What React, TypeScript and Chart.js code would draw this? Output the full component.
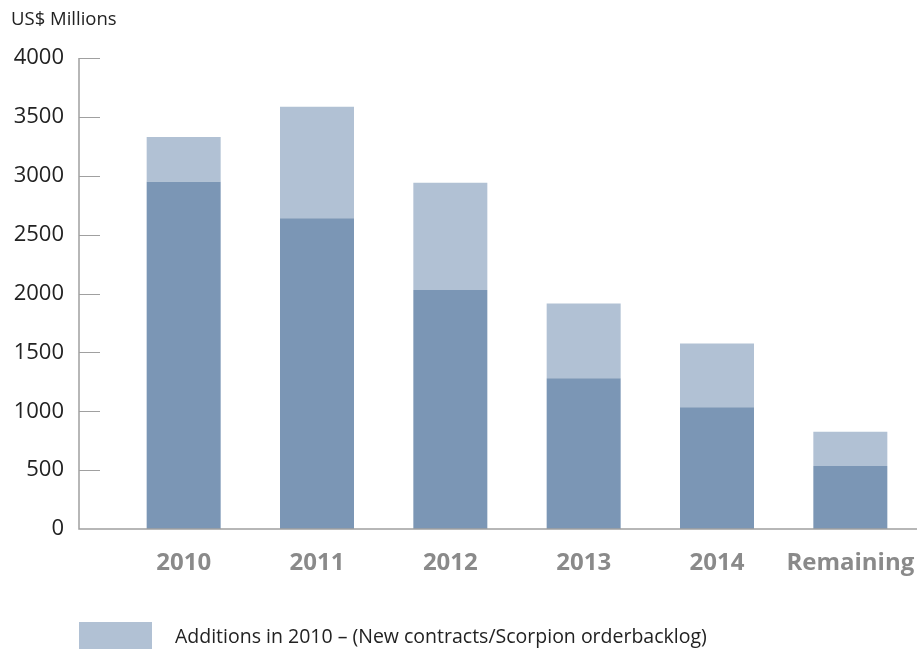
import React, { useEffect, useRef } from "react";
import { Chart, registerables } from "chart.js";

Chart.register(...registerables);

const categories = ["2010", "2011", "2012", "2013", "2014", "Remaining"];
const existingBacklog = [2950, 2640, 2030, 1280, 1035, 535];
const additions2010 = [380, 945, 910, 635, 540, 290];
const yTicks = [0, 500, 1000, 1500, 2000, 2500, 3000, 3500, 4000];
const unitLabel = "US$ Millions";
const legendLabel = "Additions in 2010 \u2013 (New contracts/Scorpion orderbacklog)";

const DARK = "#7b96b5";
const LIGHT = "#b1c1d4";
const AXIS = "#a0a0a0";
const FONT = "'Open Sans', sans-serif";

const decorPlugin = {
  id: "decor",
  afterDraw(chart: any) {
    const { ctx, chartArea, scales } = chart;
    const y = scales.y;
    const axisX = chartArea.left - 38;
    const top = y.getPixelForValue(4000);
    const bottom = y.getPixelForValue(0);
    ctx.save();
    ctx.strokeStyle = AXIS;
    ctx.lineWidth = 1.5;
    ctx.beginPath();
    ctx.moveTo(axisX, top);
    ctx.lineTo(axisX, bottom);
    ctx.lineTo(chartArea.right, bottom);
    ctx.stroke();
    ctx.lineWidth = 1;
    yTicks.forEach((v) => {
      if (v === 0) return;
      const py = Math.round(y.getPixelForValue(v)) + 0.5;
      ctx.beginPath();
      ctx.moveTo(axisX, py);
      ctx.lineTo(axisX + 21, py);
      ctx.stroke();
    });
    // unit label
    ctx.fillStyle = "#222";
    ctx.font = `18.5px ${FONT}`;
    ctx.textBaseline = "middle";
    ctx.textAlign = "left";
    ctx.fillText(unitLabel, 11, 20);
    // legend
    ctx.fillStyle = LIGHT;
    ctx.fillRect(axisX, 622, 73, 27);
    ctx.fillStyle = "#222";
    ctx.font = `19.5px ${FONT}`;
    ctx.fillText(legendLabel, 175, 637);
    ctx.restore();
  },
};

export default function App() {
  const ref = useRef<HTMLCanvasElement>(null);
  useEffect(() => {
    if (!ref.current) return;
    const chart = new Chart(ref.current, {
      type: "bar",
      data: {
        labels: categories,
        datasets: [
          {
            label: "Order backlog",
            data: existingBacklog,
            backgroundColor: DARK,
            barPercentage: 0.555,
            categoryPercentage: 1,
          },
          {
            label: legendLabel,
            data: additions2010,
            backgroundColor: LIGHT,
            barPercentage: 0.555,
            categoryPercentage: 1,
          },
        ],
      },
      options: {
        animation: false,
        responsive: false,
        layout: { padding: { top: 58, right: 0, left: 12, bottom: 0 } },
        plugins: {
          legend: { display: false },
          title: { display: false },
          tooltip: { enabled: false },
        },
        scales: {
          x: {
            stacked: true,
            grid: { display: false, drawTicks: false },
            border: { display: false },
            ticks: {
              color: "#8a8a8a",
              font: { family: FONT, size: 24, weight: "bold" },
              padding: 20,
              maxRotation: 0,
            },
            afterFit: (s: any) => {
              s.height = 125;
              s.paddingLeft = 0;
              s.paddingRight = 0;
            },
          },
          y: {
            stacked: true,
            min: 0,
            max: 4000,
            grid: { display: false, drawTicks: false },
            border: { display: false },
            ticks: {
              stepSize: 500,
              color: "#222",
              font: { family: FONT, size: 22 },
              padding: 53,
              callback: (v: any) => String(v),
            },
            afterFit: (s: any) => {
              s.width = 105;
              s.paddingTop = 0;
              s.paddingBottom = 0;
            },
          },
        },
      },
      plugins: [decorPlugin],
    });
    return () => chart.destroy();
  }, []);
  return (
    <div style={{ position: "fixed", left: 0, top: 0, width: 917, height: 654, background: "#fff" }}>
      <canvas ref={ref} width={917} height={654} style={{ display: "block" }} />
    </div>
  );
}
